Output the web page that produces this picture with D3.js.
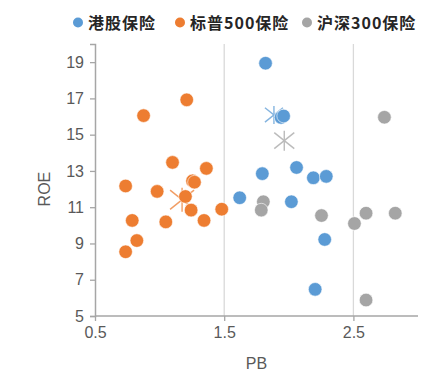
<!DOCTYPE html>
<html>
<head>
<meta charset="utf-8">
<script src="https://cdn.jsdelivr.net/npm/d3@7"></script>
<style>
  body { margin: 0; background: #fff; }
  svg { display: block; }
</style>
</head>
<body>
<div id="chart"></div>
<script>
var width = 445, height = 382;

var seriesNames = ["港股保险", "标普500保险", "沪深300保险"];
var colors = ["#5B9BD5", "#ED7D31", "#A5A5A5"];

// PB, ROE for each company
var hkPoints = [
  [1.82, 18.94], [1.94, 15.95], [1.96, 16.03], [2.06, 13.19], [1.795, 12.85],
  [2.19, 12.62], [2.29, 12.70], [1.62, 11.52], [2.02, 11.30], [2.278, 9.22], [2.204, 6.47]
];
var spPoints = [
  [1.21, 16.92], [0.876, 16.05], [1.10, 13.47], [1.362, 13.14], [1.255, 12.45],
  [1.27, 12.38], [0.737, 12.17], [0.981, 11.87], [1.20, 11.59], [1.244, 10.84],
  [1.481, 10.89], [0.788, 10.27], [1.048, 10.19], [1.344, 10.27], [0.824, 9.16], [0.737, 8.54]
];
var hsPoints = [
  [2.74, 15.96], [1.803, 11.30], [1.787, 10.84], [2.253, 10.54], [2.508, 10.10],
  [2.598, 10.67], [2.824, 10.67], [2.598, 5.88]
];
// group averages (star markers)
var meanPoints = [[1.885, 16.09], [1.174, 11.41], [1.965, 14.67]];

var xTicks = [0.5, 1.5, 2.5];
var yTicks = [5, 7, 9, 11, 13, 15, 17, 19];

var svg = d3.select("#chart").append("svg")
  .attr("width", width)
  .attr("height", height);

var x = d3.scaleLinear().domain([0.5, 3.0]).range([95, 418]);
var y = d3.scaleLinear().domain([5, 20]).range([316, 44]);

// vertical gridlines
svg.append("g")
  .selectAll("line")
  .data(xTicks.slice(1))
  .enter().append("line")
  .attr("x1", d => x(d)).attr("x2", d => x(d))
  .attr("y1", y(20)).attr("y2", y(5))
  .style("stroke", "#d9d9d9")
  .style("stroke-width", 1.3);

var axisColor = "#a6a6a6";

var xAxis = svg.append("g")
  .attr("transform", "translate(0," + y(5) + ")")
  .call(d3.axisBottom(x).tickValues(xTicks).tickSize(5).tickPadding(6).tickFormat(d3.format(".1f")));
var yAxis = svg.append("g")
  .attr("transform", "translate(" + x(0.5) + ",0)")
  .call(d3.axisLeft(y).tickValues(yTicks).tickSize(5).tickPadding(6));

[xAxis, yAxis].forEach(function(a) {
  a.select(".domain").style("stroke", axisColor).style("stroke-width", 1.5);
  a.selectAll(".tick line").style("stroke", axisColor).style("stroke-width", 1.3);
  a.selectAll(".tick text")
    .style("font-family", "'Liberation Sans', Arial, sans-serif")
    .style("font-size", "16px")
    .style("fill", "#595959");
});
// x-axis line runs to the end of the domain
xAxis.select(".domain").remove();
svg.append("line")
  .attr("x1", x(0.5)).attr("x2", x(3.0))
  .attr("y1", y(5)).attr("y2", y(5))
  .style("stroke", axisColor).style("stroke-width", 1.5);

// axis titles
svg.append("text")
  .attr("x", x(1.75)).attr("y", 369)
  .attr("text-anchor", "middle")
  .style("font-family", "'Liberation Sans', Arial, sans-serif")
  .style("font-size", "16px")
  .style("fill", "#595959")
  .text("PB");
svg.append("text")
  .attr("transform", "translate(50," + y(12) + ") rotate(-90)")
  .attr("text-anchor", "middle")
  .style("font-family", "'Liberation Sans', Arial, sans-serif")
  .style("font-size", "16px")
  .style("fill", "#595959")
  .text("ROE");

function star(g, d, color, r) {
  var cx = x(d[0]), cy = y(d[1]);
  var s = g.append("g").style("stroke", color).style("stroke-width", 1.4).style("opacity", 0.75);
  s.append("line").attr("x1", cx - r).attr("y1", cy - r * 0.8).attr("x2", cx + r).attr("y2", cy + r * 0.8);
  s.append("line").attr("x1", cx - r).attr("y1", cy + r * 0.8).attr("x2", cx + r).attr("y2", cy - r * 0.8);
  s.append("line").attr("x1", cx).attr("y1", cy - r).attr("x2", cx).attr("y2", cy + r);
}

var plot = svg.append("g");
var allSeries = [hkPoints, spPoints, hsPoints];
var starSizes = [9, 12, 10];

allSeries.forEach(function(pts, i) {
  star(plot, meanPoints[i], colors[i], starSizes[i]);
  plot.append("g")
    .selectAll("circle")
    .data(pts)
    .enter().append("circle")
    .attr("cx", d => x(d[0]))
    .attr("cy", d => y(d[1]))
    .attr("r", 6.8)
    .style("fill", colors[i])
    .style("stroke", "#fff")
    .style("stroke-width", 0.6);
});

// legend
var legendX = [78, 180, 307];
var legend = svg.append("g");
seriesNames.forEach(function(name, i) {
  legend.append("circle")
    .attr("cx", legendX[i]).attr("cy", 22.5)
    .attr("r", 5)
    .style("fill", colors[i]);
  legend.append("text")
    .attr("x", legendX[i] + 10).attr("y", 28.5)
    .style("font-family", "'Noto Sans CJK SC', sans-serif")
    .style("font-weight", "bold")
    .style("font-size", "16px")
    .style("letter-spacing", "1px")
    .style("fill", "#262626")
    .text(name);
});
</script>
</body>
</html>
